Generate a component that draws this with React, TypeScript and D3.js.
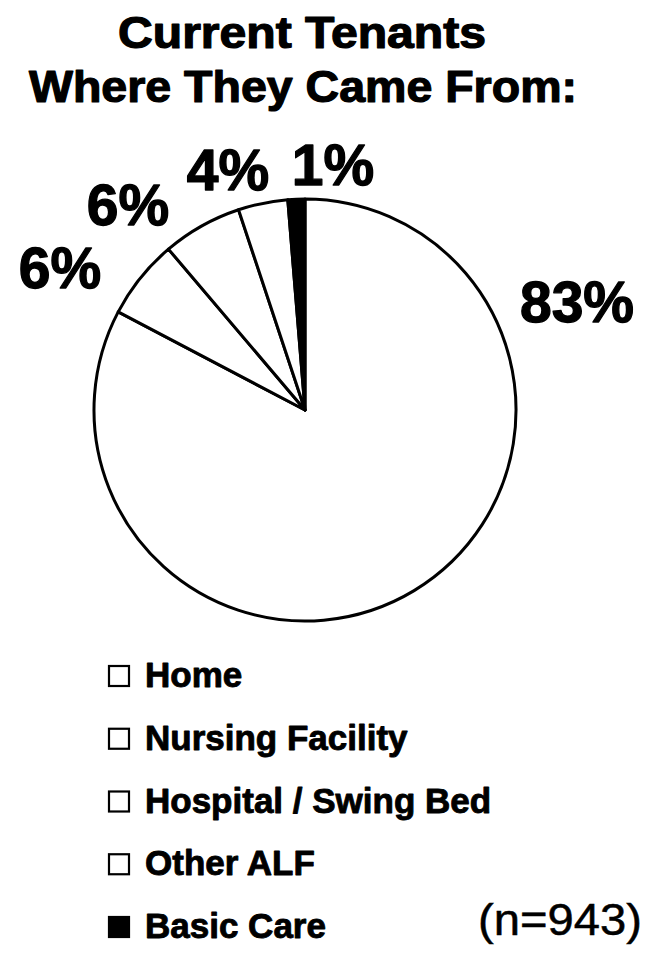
import React from "react";
import * as d3 from "d3";

// ---- data ----
const categories = ["Home", "Nursing Facility", "Hospital / Swing Bed", "Other ALF", "Basic Care"];
const shares = [82.7, 6.1, 6.1, 3.8, 1.3];
const pctLabels = ["83%", "6%", "6%", "4%", "1%"];
const sampleNote = "(n=943)";
const titleLines = ["Current Tenants", "Where They Came From:"];

// ---- layout ----
const W = 645;
const H = 953;
const CX = 305;
const CY = 410;
const R = 211;
const FONT = "'Liberation Sans', Arial, Helvetica, sans-serif";
const fills = ["#ffffff", "#ffffff", "#ffffff", "#ffffff", "#000000"];
// label anchor points relative to pie centre
const labelOffsets: [number, number][] = [
  [272, -88],
  [-245, -122],
  [-177, -185],
  [-77, -220],
  [28, -225],
];

export default function App() {
  const pie = d3.pie<number>().sort(null).value((d) => d)(shares);
  const arc = d3.arc<d3.PieArcDatum<number>>().innerRadius(0).outerRadius(R);
  const legendY = d3.scaleLinear().domain([0, categories.length - 1]).range([687, 938]);

  return (
    <svg
      width={W}
      height={H}
      style={{ position: "absolute", left: 0, top: 0, background: "#fff" }}
      fontFamily={FONT}
    >
      <rect x={0} y={0} width={W} height={H} fill="#fff" />
      <g stroke="#000" strokeWidth={1.2} strokeLinejoin="round">
        <text x={302} y={48} textAnchor="middle" fontWeight="bold" fontSize={44} textLength={368} lengthAdjust="spacingAndGlyphs">
          {titleLines[0]}
        </text>
        <text x={303} y={102} textAnchor="middle" fontWeight="bold" fontSize={44} textLength={548} lengthAdjust="spacingAndGlyphs">
          {titleLines[1]}
        </text>
      </g>

      <g transform={`translate(${CX},${CY})`}>
        {pie.map((p, i) => (
          <path key={i} d={arc(p) || ""} fill={fills[i]} stroke="#000" strokeWidth={3} strokeLinejoin="round" />
        ))}
        <g stroke="#000" strokeWidth={1.3} strokeLinejoin="round">
          {pctLabels.map((t, i) => (
            <text
              key={i}
              x={labelOffsets[i][0]}
              y={labelOffsets[i][1]}
              textAnchor="middle"
              fontWeight="bold"
              fontSize={57}
            >
              {t}
            </text>
          ))}
        </g>
      </g>

      {categories.map((c, i) => {
        const y = legendY(i);
        return (
          <g key={c}>
            <rect x={109} y={y - 21} width={20} height={20} fill={fills[i]} stroke="#000" strokeWidth={2.2} />
            <text x={145} y={y} fontWeight="bold" fontSize={35} stroke="#000" strokeWidth={0.9} strokeLinejoin="round">
              {c}
            </text>
          </g>
        );
      })}
      <text x={478} y={935} fontSize={44} textLength={164} lengthAdjust="spacingAndGlyphs" stroke="#000" strokeWidth={0.5}>
        {sampleNote}
      </text>
    </svg>
  );
}
